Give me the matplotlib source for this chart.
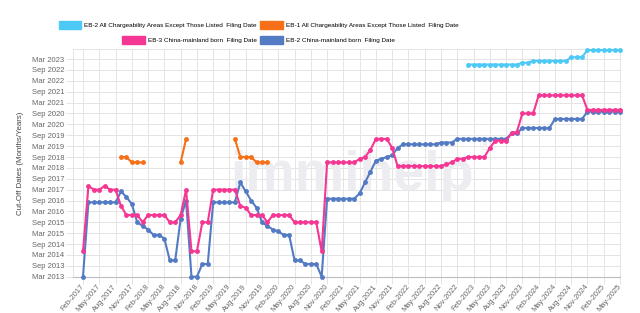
import numpy as np
import pandas as pd
import matplotlib
matplotlib.use("Agg")
import matplotlib.pyplot as plt
from matplotlib.patches import Patch

plt.rcParams['font.family'] = ['Liberation Sans', 'DejaVu Sans']

# bulletin months (x categories)
months = pd.date_range('2017-02-01', '2025-05-01', freq='MS')
month_labels = [d.strftime('%b-%Y') for d in months]

# cut-off dates, as months after Mar 2013
eb3_china = [14, 50, 48, 48, 50, 48, 48, 39, 34, 34, 34, 30, 34, 34, 34, 34, 30, 30, 34, 48,
             14, 14, 30, 30, 48, 48, 48, 48, 48, 39, 38, 34, 34, 34, 30, 34, 34, 34, 34, 30,
             30, 30, 30, 30, 14, 63, 63, 63, 63, 63, 63, 65, 66, 70, 76, 76, 76, 71, 61, 61,
             61, 61, 61, 61, 61, 61, 61, 62, 63, 65, 65, 66, 66, 66, 66, 71, 75, 75, 75, 79,
             80, 90, 90, 90, 100, 100, 100, 100, 100, 100, 100, 100, 100, 92, 92, 92, 92, 92, 92, 92]
eb2_china = [0, 41, 41, 41, 41, 41, 41, 47, 44, 40, 30, 28, 26, 23, 23, 21, 9, 9, 32, 42,
             0, 0, 7, 7, 41, 41, 41, 41, 41, 52, 47, 42, 38, 30, 28, 26, 25, 23, 23, 9,
             9, 7, 7, 7, 0, 43, 43, 43, 43, 43, 43, 46, 52, 58, 64, 65, 66, 67, 71, 73,
             73, 73, 73, 73, 73, 73, 74, 74, 74, 76, 76, 76, 76, 76, 76, 76, 76, 76, 76, 79,
             79, 82, 82, 82, 82, 82, 82, 87, 87, 87, 87, 87, 87, 91, 91, 91, 91, 91, 91, 91]
eb1_row = [None] * 7 + [66, 66, 63, 63, 63] + [None] * 6 + [63, 76] + [None] * 8 + \
          [76, 66, 66, 66, 63, 63, 63] + [None] * 65
eb2_row = [None] * 71 + [117] * 10 + [118] * 2 + [119] * 7 + [121] * 3 + [125] * 7

y_ticks = list(range(0, 121, 6))
y_labels = [d.strftime('%b %Y') for d in pd.date_range('2013-03-01', '2023-03-01', freq='6MS')]

c_eb2_row = '#4dc9f6'
c_eb1_row = '#f67019'
c_eb3_cn = '#f53794'
c_eb2_cn = '#537bc4'
grid_c = '#e4e4e4'

fig = plt.figure(figsize=(6.4, 3.13), dpi=100)
ax = fig.add_axes([72.7 / 640, 1 - 276.7 / 313, (620 - 72.7) / 640, (276.7 - 49.3) / 313])

x = np.arange(len(months))
series = [(eb2_china, c_eb2_cn), (eb3_china, c_eb3_cn), (eb1_row, c_eb1_row), (eb2_row, c_eb2_row)]
for i, (vals, col) in enumerate(series):
    v = np.array([np.nan if a is None else a for a in vals], dtype=float)
    ax.plot(x, v, color=col, lw=1.5, marker='o', ms=3.5, mew=0, clip_on=False, zorder=3 + i)

# watermark (pixel coordinates, origin bottom-left)
ax.text(352, 313 - 190, 'immihelp', transform=None, fontsize=40, fontweight='bold',
        color='#ededf1', ha='center', va='baseline', zorder=1)
ax.text(485, 313 - 146, '\u00ae', transform=None, fontsize=10, color='#e8e8ec',
        ha='center', va='center', zorder=1)

ax.set_xlim(-1.9, 99)
ax.set_ylim(0, 125.4)
ax.set_xticks(x[::3])
ax.set_xticklabels(month_labels[::3], rotation=50, ha='right', va='center',
                   rotation_mode='anchor', fontsize=5.4, color='#666666')
ax.set_yticks(y_ticks)
ax.set_yticklabels(y_labels, fontsize=5.5, color='#666666')
ax.tick_params(axis='both', length=4.7, width=0.7, color=grid_c, pad=1.5)
ax.grid(True, color=grid_c, lw=0.7)
ax.set_axisbelow(True)
for s in ['top', 'right', 'left']:
    ax.spines[s].set_color(grid_c)
    ax.spines[s].set_linewidth(0.7)
ax.spines['bottom'].set_color('#bdbdbd')
ax.spines['bottom'].set_linewidth(0.8)

fig.text(21 / 640, 1 - 163 / 313, 'Cut-Off Dates (Months/Years)', rotation=90,
         ha='center', va='center', fontsize=5.7, color='#444444')

leg_kw = dict(loc='center', ncol=2, frameon=False, fontsize=4.6, handlelength=3.5,
              handleheight=1.4, handletextpad=0.45, columnspacing=0.6, borderpad=0)
fig.legend(handles=[Patch(color=c_eb2_row, label='EB-2 All Chargeability Areas Except Those Listed  Filing Date'),
                    Patch(color=c_eb1_row, label='EB-1 All Chargeability Areas Except Those Listed  Filing Date')],
           bbox_to_anchor=(258.5 / 640, 1 - 25 / 313), **leg_kw)
fig.legend(handles=[Patch(color=c_eb3_cn, label='EB-3 China-mainland born  Filing Date'),
                    Patch(color=c_eb2_cn, label='EB-2 China-mainland born  Filing Date')],
           bbox_to_anchor=(258.5 / 640, 1 - 40 / 313), **leg_kw)

fig.savefig('out.png', dpi=100)
